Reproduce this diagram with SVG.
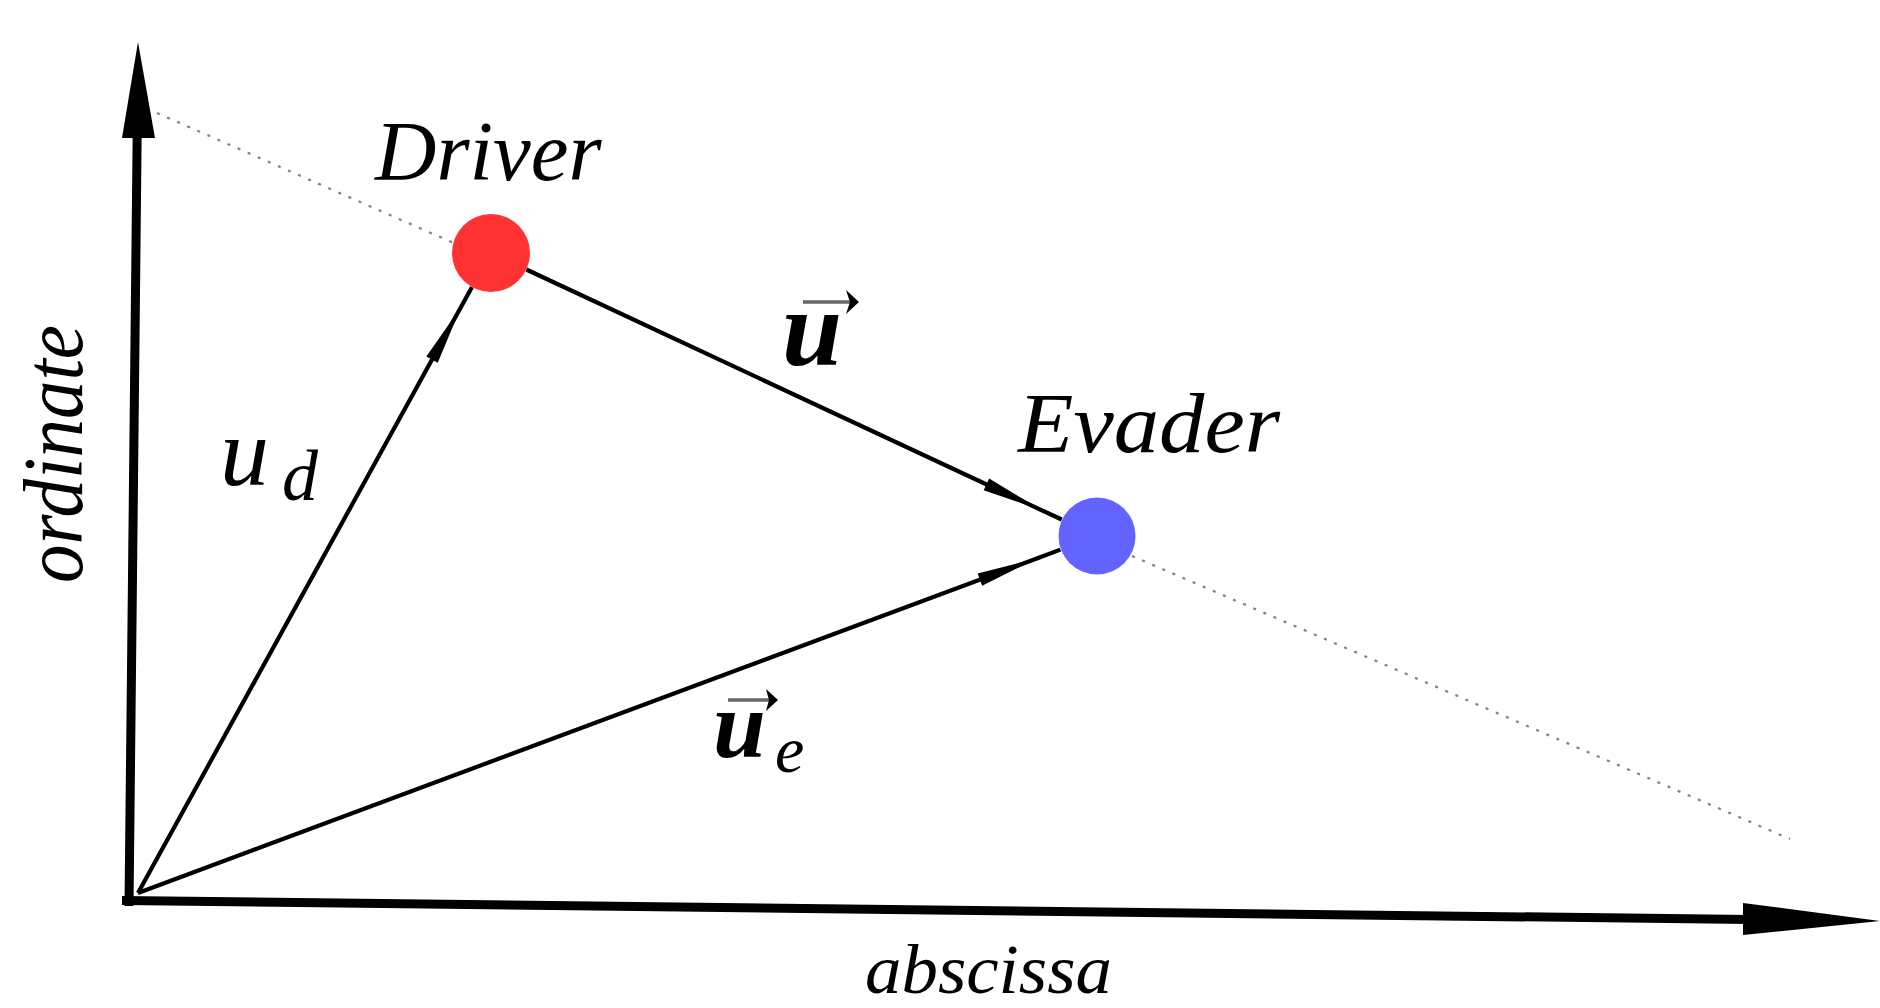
<svg xmlns="http://www.w3.org/2000/svg" width="1880" height="1008" viewBox="0 0 1880 1008">
  <defs>
    <marker id="ah" viewBox="-64 -9 66 18" refX="0" refY="0" markerWidth="66" markerHeight="18" markerUnits="userSpaceOnUse" orient="auto">
      <path d="M0,0 L-60,-6.5 L-60,6.5 Z" fill="#000"/>
    </marker>
    <style>
      .lbl { font-family: "Liberation Serif", "Times New Roman", serif; font-style: italic; fill: #000; }
      .vlbl { font-family: "Liberation Serif", "Times New Roman", serif; font-style: italic; font-weight: bold; fill: #000; }
      .shaft { stroke: #666; stroke-width: 3.5; fill: none; }
      .head { fill: #000; }
      .vec { fill: none; stroke: #000; stroke-width: 4.2; marker-mid: url(#ah); }
      .axis { stroke: #000; stroke-width: 9; fill: none; }
      .dots { stroke: #808080; stroke-width: 2.2; stroke-dasharray: 3 8; fill: none; }
    </style>
  </defs>
  <rect width="1880" height="1008" fill="#fff"/>

  <g id="axes">
    <line class="axis" x1="129" y1="906" x2="137.2" y2="132"/>
    <polygon points="138,42 122,138 155,138" fill="#000"/>
    <line class="axis" x1="122" y1="900.5" x2="1750" y2="919.5"/>
    <polygon points="1880,921 1743,903 1743,935" fill="#000"/>
    <text class="lbl" font-size="84" transform="translate(82,583) rotate(-90)" textLength="258" lengthAdjust="spacingAndGlyphs">ordinate</text>
    <text class="lbl" font-size="70" x="865" y="993" textLength="247" lengthAdjust="spacingAndGlyphs">abscissa</text>
  </g>

  <g id="connectors">
    <path class="dots" d="M157,113 L456,244"/>
    <path class="dots" d="M1132,556 L1790,839"/>
    <path id="vec-ud" class="vec" d="M138,893 L461,307 L472,287"/>
    <path id="vec-u" class="vec" d="M526.3,269.5 L1040.8,509.8 L1061.7,519.5"/>
    <path id="vec-ue" class="vec" d="M138,893 L1036.1,558.7 L1060.4,549.6"/>
    <g id="label-ud">
      <text class="lbl" font-size="98" x="220" y="485">u</text>
      <text class="lbl" font-size="72" x="282" y="500">d</text>
    </g>
    <g id="label-u">
      <line class="shaft" x1="803" y1="302" x2="852" y2="302"/>
      <polygon class="head" points="859,302 846,290 850,302 846,314"/>
      <text class="vlbl" font-size="108" x="782" y="365">u</text>
    </g>
    <g id="label-ue">
      <line class="shaft" x1="728" y1="700" x2="771" y2="700"/>
      <polygon class="head" points="778,700 766,689 769,700 766,711"/>
      <text class="vlbl" font-size="95" x="713" y="757">u</text>
      <text class="lbl" font-size="66" x="775" y="772">e</text>
    </g>
  </g>

  <g id="driver">
    <circle cx="491" cy="253" r="39" fill="#ff3333"/>
    <text class="lbl" font-size="85" x="375" y="180">Driver</text>
  </g>

  <g id="evader">
    <circle cx="1097" cy="536" r="38.5" fill="#6363ff"/>
    <text class="lbl" font-size="85" x="1018" y="452" textLength="262" lengthAdjust="spacingAndGlyphs">Evader</text>
  </g>
</svg>
